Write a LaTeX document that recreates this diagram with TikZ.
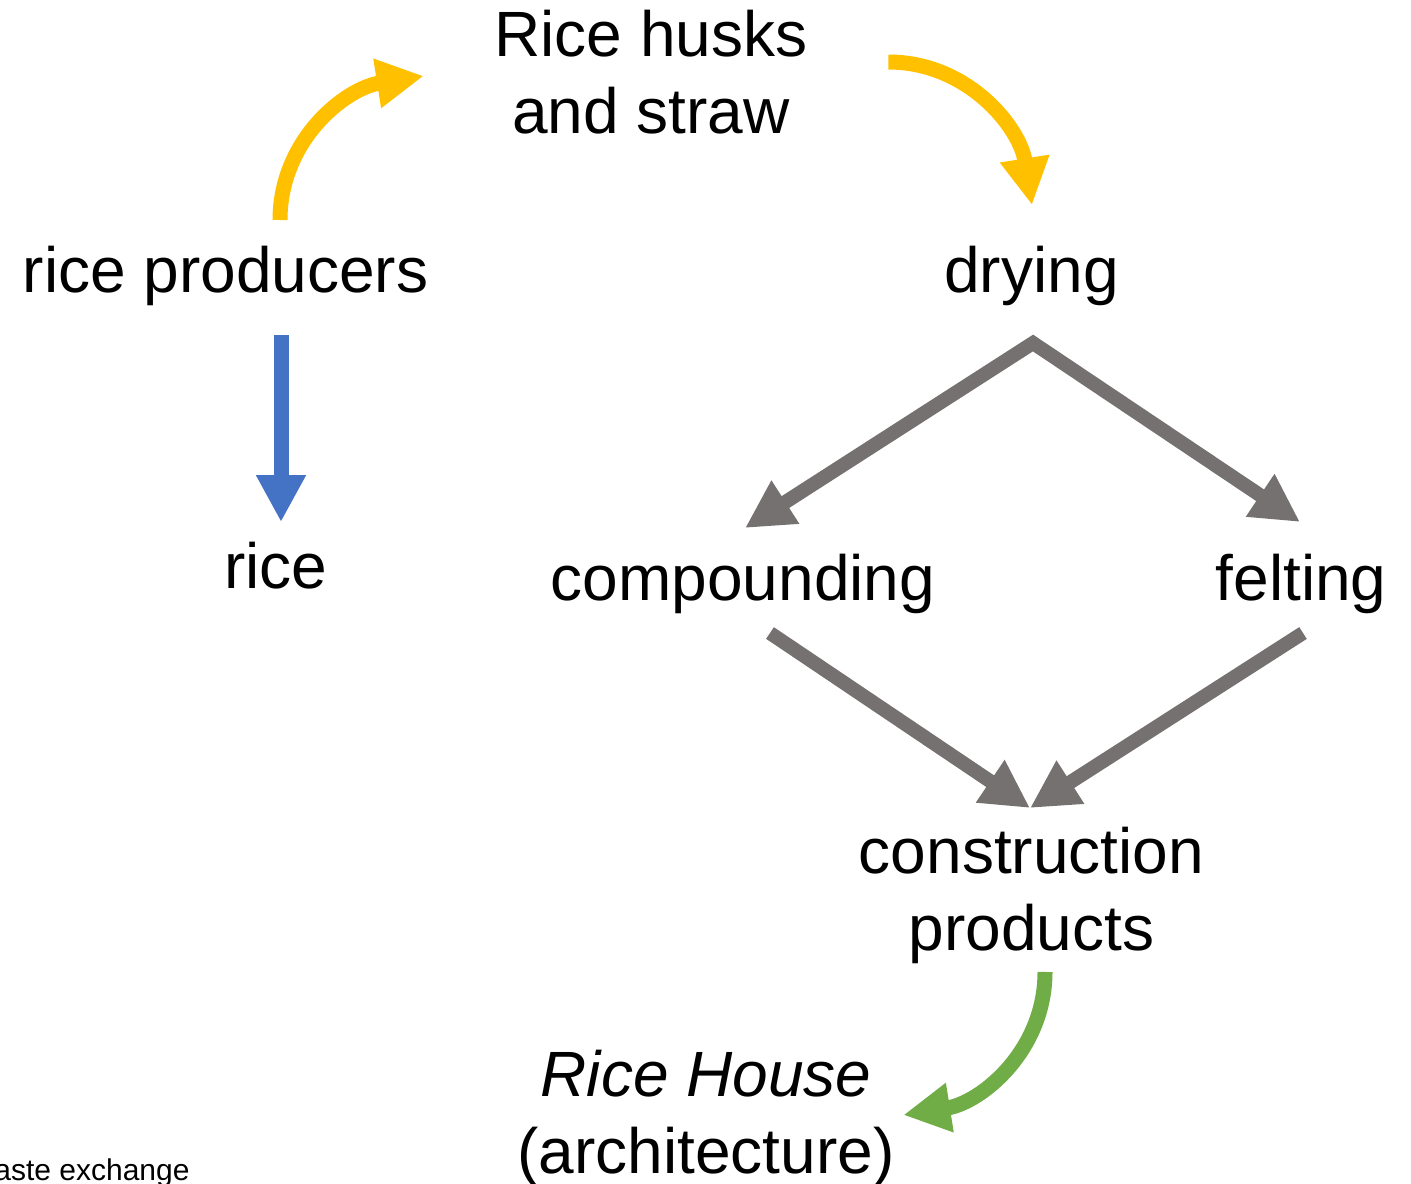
\documentclass[tikz,border=0pt]{standalone}
\usepackage{fontspec}
\setmainfont{Liberation Sans}
\usetikzlibrary{arrows.meta,calc}

\definecolor{strawyellow}{HTML}{FFC000}
\definecolor{riceblue}{HTML}{4472C4}
\definecolor{processgray}{HTML}{767171}
\definecolor{housegreen}{HTML}{70AD47}

\begin{document}
\begin{tikzpicture}[
  x=0.5pt, y=0.5pt,
  lbl/.style={inner sep=0pt, font=\fontsize{32}{38.5}\selectfont, align=center},
  note/.style={inner sep=0pt, font=\fontsize{15}{18}\selectfont},
  flow/.style={line width=7.5pt, -{Triangle[length=23.5pt, width=23.5pt]}},
  proc/.style={line width=7pt, processgray, -{Triangle[length=24pt, width=24pt]}},
  fork/.style={line width=7pt, processgray, {Triangle[length=24pt, width=24pt]}-{Triangle[length=24pt, width=24pt]}},
]
\useasboundingbox (0,0) rectangle (1411,-1183);

% --- labels ---
\node[lbl, anchor=base] (producers) at (225.5,-292) {rice producers};
\node[lbl] (husks) at (651,-72.5) {Rice husks\\and straw};
\node[lbl, anchor=base] (rice) at (276,-588) {rice};
\node[lbl, anchor=base] (drying) at (1031.5,-292) {drying};
\node[lbl, anchor=base] (compounding) at (743,-600) {compounding};
\node[lbl, anchor=base] (felting) at (1301,-600) {felting};
\node[lbl, anchor=north] (products) at (1031.5,-827) {construction\\products};
\node[lbl, anchor=north] (house) at (706,-1050) {\textit{Rice House}\\(architecture)};
\node[note, anchor=base east] (exchange) at (190,-1180) {waste exchange};

% --- husks and straw loop (yellow) ---
\draw[flow, strawyellow] ($(producers.base)+(54.5,72)$) to[out=90, in=189] ($(husks.west)+(-70.5,-3.5)$);
\draw[flow, strawyellow] ($(husks.east)+(80.5,10.5)$) to[out=0, in=99] ($(drying.base)+(0.5,87)$);

% --- grain (blue) ---
\draw[flow, riceblue] ($(producers.base)+(55.5,-43)$) -- ($(rice.base)+(5,66)$);

% --- processing (gray) ---
\draw[fork] ($(compounding.base)+(2,72)$) -- ($(drying.base)+(1.5,-51)$) -- ($(felting.base)+(-1,78)$);
\draw[proc] ($(compounding.base)+(27,-33)$) -- ($(products.north)+(-1.5,19)$);
\draw[proc] ($(felting.base)+(2,-33)$) -- ($(products.north)+(-1.5,19)$);

% --- building (green) ---
\draw[flow, housegreen] ($(products.south)+(13.5,-7.5)$) to[out=-90, in=9] ($(house.east)+(8.5,3.75)$);
\end{tikzpicture}
\end{document}
